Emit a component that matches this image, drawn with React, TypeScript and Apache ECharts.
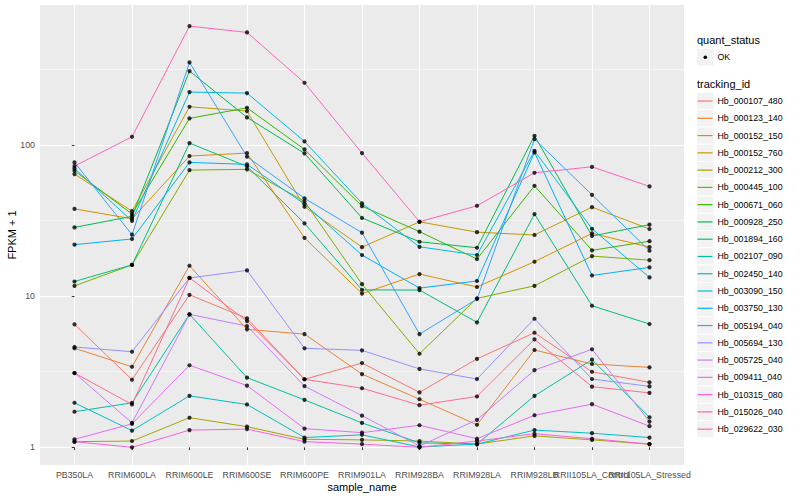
import React, { useEffect, useRef } from "react";
import * as echarts from "echarts";

const categories = [
  "PB350LA", "RRIM600LA", "RRIM600LE", "RRIM600SE", "RRIM600PE", "RRIM901LA",
  "RRIM928BA", "RRIM928LA", "RRIM928LB", "RRII105LA_Control", "RRII105LA_Stressed",
];

const trackingIds = [
  "Hb_000107_480", "Hb_000123_140", "Hb_000152_150", "Hb_000152_760", "Hb_000212_300",
  "Hb_000445_100", "Hb_000671_060", "Hb_000928_250", "Hb_001894_160", "Hb_002107_090",
  "Hb_002450_140", "Hb_003090_150", "Hb_003750_130", "Hb_005194_040", "Hb_005694_130",
  "Hb_005725_040", "Hb_009411_040", "Hb_010315_080", "Hb_015026_040", "Hb_029622_030",
];

const palette = [
  "#F8766D", "#EA8331", "#D89000", "#C09B00", "#A3A500", "#7CAE00", "#39B600", "#00BB4E",
  "#00BF7D", "#00C1A3", "#00BFC4", "#00BAE0", "#00B0F6", "#35A2FF", "#9590FF", "#C77CFF",
  "#E76BF3", "#FA62DB", "#FF62BC", "#FF6C91",
];

// FPKM + 1 per sample (order of categories)
const hb000107_480 = [6.51, 2.8, 10.2, 7.13, 2.82, 3.61, 2.31, 3.85, 5.73, 3.16, 2.69];
const hb000123_140 = [4.52, 3.41, 15.9, 6.03, 5.61, 3.05, 2.08, 1.41, 4.4, 3.56, 3.38];
const hb000152_150 = [37.8, 32.5, 84.5, 88.4, 24.3, 10.4, 14.0, 11.5, 16.9, 26.0, 21.1];
const hb000152_760 = [64.2, 36.5, 178.9, 167.6, 39.0, 21.1, 31.0, 26.5, 25.4, 38.8, 27.8];
const hb000212_300 = [1.09, 1.1, 1.57, 1.37, 1.13, 1.12, 1.1, 1.05, 1.19, 1.12, 1.05];
const hb000445_100 = [11.7, 16.1, 68.2, 69.0, 42.4, 12.0, 4.16, 9.67, 11.7, 18.4, 17.3];
const hb000671_060 = [67.5, 34.9, 150.0, 176.2, 93.5, 39.4, 26.7, 17.6, 53.7, 20.1, 23.1];
const hb000928_250 = [28.5, 33.7, 308.2, 152.2, 88.0, 32.9, 22.9, 20.9, 115.0, 25.0, 29.7];
const hb001894_160 = [12.5, 16.1, 102.9, 72.2, 30.3, 11.0, 10.97, 6.71, 34.9, 8.64, 6.54];
const hb002107_090 = [1.72, 1.97, 7.58, 2.89, 2.06, 1.45, 1.07, 1.05, 2.19, 3.8, 1.58];
const hb002450_140 = [1.97, 1.29, 2.19, 1.92, 1.16, 1.21, 1.005, 1.05, 1.3, 1.24, 1.16];
const hb003090_150 = [70.0, 31.5, 223.8, 220.4, 105.6, 41.1, 21.2, 18.7, 91.5, 27.9, 13.3];
const hb003750_130 = [21.9, 23.9, 76.7, 74.4, 40.7, 18.7, 11.3, 12.6, 89.4, 13.7, 15.5];
const hb005194_040 = [76.7, 25.5, 351.8, 83.6, 44.4, 26.3, 5.61, 9.57, 109.4, 46.8, 19.97];
const hb005694_130 = [4.61, 4.29, 13.2, 14.8, 4.52, 4.38, 3.3, 2.83, 7.09, 2.83, 2.53];
const hb005725_040 = [3.1, 1.45, 7.58, 6.34, 2.54, 1.62, 1.02, 1.52, 3.24, 4.45, 1.48];
const hb009411_040 = [1.13, 1.43, 3.49, 2.56, 1.33, 1.25, 1.4, 1.14, 1.63, 1.93, 1.38];
const hb010315_080 = [1.09, 1.0, 1.3, 1.32, 1.09, 1.05, 1.0, 1.1, 1.23, 1.14, 1.05];
const hb015026_040 = [72.5, 113.3, 611.5, 555.5, 257.9, 88.4, 31.05, 39.6, 65.5, 71.7, 53.2];
const hb029622_030 = [3.1, 1.92, 13.2, 6.84, 2.82, 2.46, 1.9, 2.17, 5.18, 2.52, 2.29];

const seriesValues = [
  hb000107_480, hb000123_140, hb000152_150, hb000152_760, hb000212_300,
  hb000445_100, hb000671_060, hb000928_250, hb001894_160, hb002107_090,
  hb002450_140, hb003090_150, hb003750_130, hb005194_040, hb005694_130,
  hb005725_040, hb009411_040, hb010315_080, hb015026_040, hb029622_030,
];

const yTickValues = [1, 10, 100];
const FONT = "'Liberation Sans', Arial, Helvetica, sans-serif";

export default function App() {
  const ref = useRef<HTMLDivElement>(null);

  useEffect(() => {
    if (!ref.current) return;
    const chart = echarts.init(ref.current, null, { renderer: "svg", width: 800, height: 500 });

    const lineSeries = trackingIds.map((id, k) => ({
      name: id,
      type: "line",
      data: seriesValues[k].map((v, i) => [i, Math.log10(v)]),
      symbol: "none",
      color: palette[k],
      lineStyle: { color: palette[k], width: 1 },
      z: 2,
      silent: true,
      emphasis: { disabled: true },
    }));

    const pointData: number[][] = [];
    seriesValues.forEach((vals) => vals.forEach((v, i) => pointData.push([i, Math.log10(v)])));

    const keyTop = 92.4;
    const keyH = 17.27;
    const keyRects = trackingIds.map((_, k) => ({
      type: "rect",
      z: 0,
      shape: { x: 696.7, y: keyTop + k * keyH, width: 17.3, height: keyH },
      style: { fill: "#F2F2F2", stroke: "#FFFFFF", lineWidth: 1 },
      silent: true,
    }));

    const xMin = -0.6;
    const xMax = categories.length - 1 + 0.6;
    const xTicks = categories.map((_, i) => i);
    // an empty label at the panel edge keeps the two last (overlapping) names visible
    const xLabelValues = [...xTicks, xMax];
    const yTicks = yTickValues.map((v) => Math.log10(v));

    const option: any = {
      animation: false,
      backgroundColor: "#FFFFFF",
      textStyle: { fontFamily: FONT },
      grid: {
        left: 40,
        right: 116,
        top: 5,
        bottom: 35,
        show: true,
        backgroundColor: "#EBEBEB",
        borderWidth: 0,
        containLabel: false,
        outerBoundsMode: "none",
      },
      xAxis: {
        type: "value",
        min: xMin,
        max: xMax,
        splitNumber: 11,
        name: "sample_name",
        nameLocation: "middle",
        nameGap: 16,
        nameMoveOverlap: false,
        nameTextStyle: { fontSize: 11, color: "#000000", fontFamily: FONT },
        axisLine: { show: false },
        axisTick: {
          show: true,
          length: 2.75,
          customValues: xTicks,
          lineStyle: { color: "#333333", width: 1 },
        },
        axisLabel: {
          customValues: xLabelValues,
          formatter: (v: number) =>
            Math.abs(v - Math.round(v)) < 1e-6 ? categories[Math.round(v)] ?? "" : "",
          fontSize: 8.8,
          color: "#4D4D4D",
          margin: 5,
          hideOverlap: false,
          fontFamily: FONT,
        },
        splitLine: { show: true, lineStyle: { color: "#FFFFFF", width: 1.07 } },
      },
      yAxis: {
        type: "value",
        min: -0.117,
        max: 2.926,
        splitNumber: 3,
        name: "FPKM + 1",
        nameLocation: "middle",
        nameRotate: 90,
        nameGap: 22.5,
        nameMoveOverlap: false,
        nameTextStyle: { fontSize: 11, color: "#000000", fontFamily: FONT },
        axisLine: { show: false },
        axisTick: {
          show: true,
          length: 2.75,
          customValues: yTicks,
          lineStyle: { color: "#333333", width: 1 },
        },
        axisLabel: {
          customValues: yTicks,
          formatter: (v: number) => String(Math.round(Math.pow(10, v))),
          fontSize: 8.8,
          color: "#4D4D4D",
          margin: 5,
          fontFamily: FONT,
        },
        splitLine: { show: true, lineStyle: { color: "#FFFFFF", width: 1.07 } },
        minorTick: { show: false, splitNumber: 2 },
        minorSplitLine: { show: true, lineStyle: { color: "#FFFFFF", width: 0.53 } },
      },
      legend: {
        show: true,
        orient: "vertical",
        left: 697.5,
        top: keyTop,
        padding: 0,
        itemGap: 0,
        itemWidth: 15,
        itemHeight: 1.2,
        icon: "rect",
        selectedMode: false,
        data: trackingIds,
        textStyle: { fontSize: 8.8, color: "#000000", lineHeight: keyH, fontFamily: FONT },
      },
      graphic: [
        {
          type: "text",
          left: 697,
          top: 34,
          style: { text: "quant_status", fontSize: 11, fill: "#000000", fontFamily: FONT },
          silent: true,
        },
        {
          type: "rect",
          shape: { x: 696.7, y: 48.7, width: 17.3, height: 17.3 },
          style: { fill: "#F2F2F2", stroke: "#FFFFFF", lineWidth: 1 },
          silent: true,
        },
        {
          type: "circle",
          shape: { cx: 705.3, cy: 57.3, r: 1.8 },
          style: { fill: "#000000" },
          silent: true,
        },
        {
          type: "text",
          left: 717.5,
          top: 52.5,
          style: { text: "OK", fontSize: 8.8, fill: "#000000", fontFamily: FONT },
          silent: true,
        },
        {
          type: "text",
          left: 697,
          top: 78,
          style: { text: "tracking_id", fontSize: 11, fill: "#000000", fontFamily: FONT },
          silent: true,
        },
        ...keyRects,
      ],
      series: [
        ...lineSeries,
        {
          name: "OK",
          type: "scatter",
          data: pointData,
          symbol: "circle",
          symbolSize: 4.2,
          itemStyle: { color: "#000000" },
          z: 5,
          silent: true,
          emphasis: { disabled: true },
        },
      ],
    };

    chart.setOption(option);
    return () => chart.dispose();
  }, []);

  return (
    <div
      ref={ref}
      style={{ position: "fixed", left: 0, top: 0, width: 800, height: 500 }}
    />
  );
}
